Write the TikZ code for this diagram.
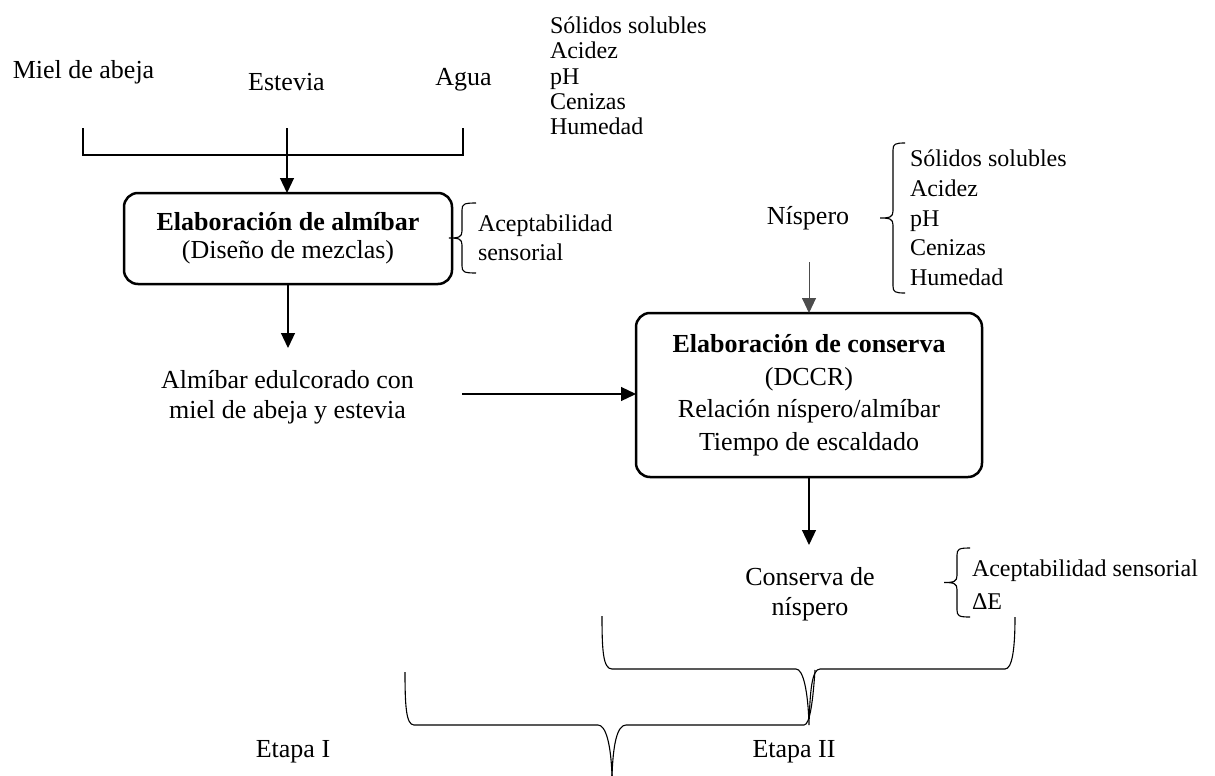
\documentclass[tikz,border=0pt]{standalone}
\usepackage{fontspec}
\setmainfont{Liberation Serif}
\usetikzlibrary{arrows.meta}
\newcommand{\lcurly}[4]{%
 \draw[brc] ({#1+#4},#2) .. controls ({#1+2},#2) and (#1,{#2+1}) .. (#1,{#2+7})
   -- (#1,{(#2+#3)/2-7}) .. controls (#1,{(#2+#3)/2-1}) and ({#1-3},{(#2+#3)/2}) .. ({#1-13},{(#2+#3)/2})
   .. controls ({#1-3},{(#2+#3)/2}) and (#1,{(#2+#3)/2+1}) .. (#1,{(#2+#3)/2+7})
   -- (#1,{#3-7}) .. controls (#1,{#3-1}) and ({#1+2},#3) .. ({#1+#4},#3);}
\begin{document}
\begin{tikzpicture}[x=1pt,y=-1pt,
  every node/.style={inner sep=0pt, outer sep=0pt},
  big/.style={font=\fontsize{26}{30}\selectfont, align=center},
  small/.style={font=\fontsize{24}{25.3}\selectfont, align=left},
  procbox/.style={draw, line width=2.5pt, rounded corners=14pt, align=center},
  conn/.style={line width=1.2pt},
  arr/.style={conn, -{Triangle[length=15pt,width=14pt]}},
  thinarr/.style={line width=0.9pt, draw=black!70, -{Triangle[length=15pt,width=14pt]}},
  brc/.style={line width=1.1pt},
]
\useasboundingbox (0,0) rectangle (1215,776);

% inputs
\node[big] (miel) at (83.5,72) {Miel de abeja};
\node[big] (estevia) at (286.5,82) {Estevia};
\node[big] (agua) at (463.5,80) {Agua};
\node[small, anchor=west] (an1) at (550,76) {Sólidos solubles\\Acidez\\pH\\Cenizas\\Humedad};

% bracket joining inputs
\coordinate (brL) at (83,128);
\coordinate (brR) at (463,128);
\coordinate (estTop) at (287,128);
\draw[conn] (brL) -- (brL |- 0,155) -- (brR |- 0,155) -- (brR);

% box 1
\node[procbox, minimum width=328pt, minimum height=91pt, font=\fontsize{26}{28}\selectfont] (box1) at (288,238.5)
  {\textbf{Elaboración de almíbar}\\(Diseño de mezclas)};
\draw[arr] (estTop) -- (estTop |- box1.north);
\lcurly{462}{203}{273}{14}
\node[small, anchor=west, font=\fontsize{24}{29}\selectfont] (acep1) at (478,238) {Aceptabilidad\\sensorial};

% syrup
\node[big] (alm) at (287.5,397) {Almíbar edulcorado con\\miel de abeja y estevia};
\coordinate (a1end) at (288,348);
\draw[arr] (box1.south) -- (a1end);

% box 2
\node[procbox, minimum width=346pt, minimum height=164pt, font=\fontsize{26}{32.5}\selectfont] (box2) at (809,395)
  {\textbf{Elaboración de conserva}\\(DCCR)\\Relación níspero/almíbar\\Tiempo de escaldado};
\coordinate (a2start) at (462,394);
\draw[arr] (a2start) -- (a2start -| box2.west);

% nispero
\node[big] (nisp) at (808,218) {Níspero};
\coordinate (nispArr) at (809,262);
\draw[thinarr] (nispArr) -- (nispArr |- box2.north);
\lcurly{893}{143}{293}{12}
\node[small, anchor=west, font=\fontsize{24}{29.7}\selectfont] (an2) at (910,218) {Sólidos solubles\\Acidez\\pH\\Cenizas\\Humedad};

% product
\coordinate (a3end) at (809,545);
\draw[arr] (box2.south) -- (a3end);
\node[big] (cons) at (810,594) {Conserva de\\níspero};
\lcurly{957}{548}{617}{13}
\node[small, anchor=west, font=\fontsize{24}{33}\selectfont] (acep2) at (972,585) {Aceptabilidad sensorial\\ΔE};

% stage braces
\draw[brc] (602,616) .. controls (602,650) and (603,669) .. (612,669) -- (796,669)
  .. controls (803,669) and (808,690) .. (809,725)
  .. controls (810,690) and (812,669) .. (820,669) -- (1005,669)
  .. controls (1012,669) and (1015,650) .. (1015,617);
\draw[brc] (405,672) .. controls (405,705) and (406,725) .. (414,725) -- (598,725)
  .. controls (606,725) and (611,745) .. (612,776);
\draw[brc] (612,776) .. controls (613,745) and (617,725) .. (626,725) -- (804,725)
  .. controls (810,725) and (813,700) .. (815,670);

\node[big] (et1) at (293,752) {Etapa I};
\node[big] (et2) at (794,752) {Etapa II};
\end{tikzpicture}
\end{document}
